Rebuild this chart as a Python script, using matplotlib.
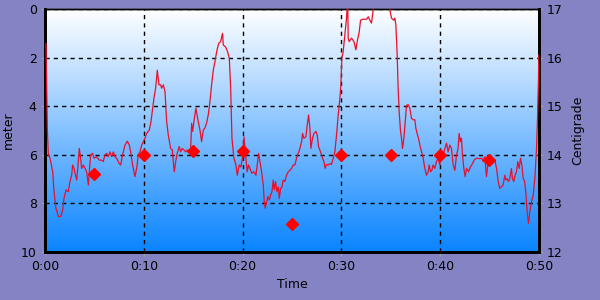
import numpy as np
import matplotlib
matplotlib.use("Agg")
from matplotlib import pyplot as plt
from matplotlib.colors import LinearSegmentedColormap
from matplotlib.ticker import FuncFormatter

# depth samples (meter), every 5 minutes
depth_time = [5, 10, 15, 20, 25, 30, 35, 40, 45]
depth = [6.8, 6.0, 5.85, 5.85, 8.85, 6.0, 6.0, 6.0, 6.2]

# temperature trace (minutes, Centigrade)
temp_time = [0.10, 0.24, 0.34, 0.51, 0.78, 0.91, 1.11, 1.35, 1.59, 1.79, 1.92, 2.13,
             2.36, 2.53, 2.70, 2.80, 2.94, 3.04, 3.21, 3.37, 3.47, 3.61, 3.71, 3.88,
             4.05, 4.22, 4.39, 4.49, 4.62, 4.82, 4.96, 5.23, 5.50, 5.73, 5.90, 6.07,
             6.24, 6.41, 6.58, 6.75, 6.92, 7.09, 7.25, 7.52, 7.66, 7.86, 8.10, 8.33,
             8.54, 8.67, 8.87, 9.11, 9.28, 9.45, 9.62, 9.79, 9.95, 10.12, 10.29, 10.56,
             10.73, 10.90, 11.03, 11.20, 11.37, 11.54, 11.71, 11.81, 11.98, 12.15, 12.32,
             12.48, 12.72, 12.89, 12.99, 13.09, 13.23, 13.39, 13.59, 13.73, 13.90, 14.07,
             14.24, 14.40, 14.61, 14.75, 14.85, 14.95, 15.08, 15.28, 15.52, 15.69, 15.86,
             16.03, 16.19, 16.36, 16.53, 16.70, 16.87, 17.04, 17.21, 17.38, 17.58, 17.78,
             17.98, 18.05, 18.29, 18.49, 18.66, 18.80, 18.93, 19.13, 19.33, 19.47, 19.67,
             19.84, 20.00, 20.15, 20.34, 20.47, 20.61, 20.75, 20.95, 21.16, 21.36, 21.49,
             21.63, 21.76, 21.93, 22.10, 22.20, 22.30, 22.44, 22.57, 22.71, 22.84, 22.98,
             23.11, 23.21, 23.35, 23.48, 23.62, 23.72, 23.86, 23.99, 24.12, 24.29, 24.46,
             24.63, 24.80, 24.97, 25.13, 25.30, 25.47, 25.64, 25.81, 25.98, 26.08, 26.21,
             26.42, 26.55, 26.69, 26.82, 26.92, 27.09, 27.23, 27.43, 27.56, 27.70, 27.90,
             28.10, 28.24, 28.37, 28.51, 28.68, 28.85, 29.01, 29.18, 29.35, 29.52, 29.69,
             29.86, 29.96, 30.06, 30.19, 30.36, 30.53, 30.60, 30.65, 30.70, 30.80, 31.04,
             31.28, 31.48, 31.61, 31.82, 31.95, 32.22, 32.56, 32.73, 32.89, 33.06, 33.23,
             33.40, 34.00, 34.50, 34.85, 34.92, 35.09, 35.32, 35.43, 35.53, 35.66, 35.76,
             35.86, 36.00, 36.10, 36.20, 36.34, 36.47, 36.61, 36.78, 36.94, 37.11, 37.28,
             37.45, 37.55, 37.68, 37.82, 37.96, 38.13, 38.29, 38.46, 38.63, 38.80, 38.90,
             39.04, 39.17, 39.30, 39.47, 39.64, 39.81, 39.98, 40.15, 40.32, 40.49, 40.66,
             40.82, 40.99, 41.16, 41.33, 41.50, 41.67, 41.83, 41.93, 42.07, 42.17, 42.27,
             42.41, 42.54, 42.68, 42.88, 43.08, 43.29, 43.45, 43.69, 43.95, 44.23, 44.36,
             44.53, 44.70, 44.87, 45.04, 45.31, 45.55, 45.72, 45.89, 46.05, 46.22, 46.39,
             46.56, 46.66, 46.79, 46.93, 47.06, 47.23, 47.33, 47.47, 47.60, 47.74, 47.87,
             48.01, 48.15, 48.28, 48.42, 48.56, 48.68, 48.82, 48.96, 49.09, 49.26, 49.43,
             49.60, 49.77, 49.87, 49.97, 50.00]
temp = [16.29, 14.51, 14.00, 13.93, 13.65, 13.24, 12.90, 12.73, 12.73, 12.86, 13.10, 13.28,
        13.24, 13.45, 13.58, 13.79, 13.72, 13.62, 13.48, 13.86, 14.13, 13.93, 13.72, 13.79,
        13.72, 13.65, 13.38, 13.65, 14.00, 14.03, 13.93, 13.96, 13.89, 13.89, 13.86, 14.00,
        14.03, 13.96, 14.06, 13.96, 14.06, 13.96, 13.93, 13.82, 13.79, 14.00, 14.20, 14.28,
        14.20, 14.06, 13.79, 13.55, 13.72, 14.00, 14.06, 14.20, 14.27, 14.34, 14.44, 14.51,
        14.68, 14.96, 15.16, 15.37, 15.74, 15.44, 15.44, 15.37, 15.44, 15.30, 14.68,
        14.41, 14.13, 14.10, 13.86, 13.65, 13.86, 14.03, 14.17, 14.06, 14.13, 14.10,
        14.06, 14.10, 14.06, 14.13, 14.65, 14.48, 14.68, 14.96, 14.68, 14.51, 14.27,
        14.51, 14.55, 14.65, 14.82, 15.09, 15.44, 15.74, 15.92, 16.12, 16.29, 16.33,
        16.50, 16.26, 16.22, 16.12, 15.99, 15.37, 14.34, 13.93, 13.79, 13.58, 13.79,
        13.75, 13.95, 14.37, 13.93, 13.65, 13.79, 13.72, 13.62, 13.65, 13.58, 13.79,
        14.03, 13.86, 13.65, 13.38, 13.03, 12.90, 13.03, 13.14, 13.07, 13.17, 13.24,
        13.48, 13.28, 13.45, 13.24, 13.34, 13.10, 13.31, 13.34, 13.48, 13.45, 13.58,
        13.65, 13.68, 13.72, 13.79, 13.79, 13.93, 14.03, 14.13, 14.27, 14.44, 14.34,
        14.37, 14.61, 14.82, 14.55, 14.13, 14.34, 14.44, 14.48, 14.41, 14.17, 14.06,
        13.93, 13.86, 13.72, 13.80, 13.79, 13.82, 13.80, 13.93, 14.06, 14.41, 14.82,
        15.16, 15.44, 15.99, 16.12, 16.47, 16.81, 17.05, 17.15, 16.40, 16.33, 16.40,
        16.33, 16.16, 16.33, 16.53, 16.77, 16.79, 16.79, 16.84, 16.77, 16.71, 16.98,
        17.20, 17.35, 17.25, 17.10, 16.98, 16.81, 16.77, 16.81, 16.67, 16.05, 15.37,
        14.89, 14.48, 14.34, 14.13, 14.34, 14.68, 15.02, 15.03, 14.96, 14.75, 14.72,
        14.72, 14.55, 14.44, 14.34, 14.20, 14.06, 13.93, 13.72, 13.58, 13.65, 13.79,
        13.65, 13.68, 13.79, 13.72, 13.86, 13.93, 13.79, 14.06, 14.00, 14.13, 14.24,
        14.06, 14.20, 14.13, 13.79, 13.68, 14.00, 14.13, 14.44, 14.27, 14.34, 14.00,
        13.72, 13.55, 13.72, 13.65, 13.75, 13.82, 13.89, 13.93, 13.92, 13.93, 13.86,
        13.96, 13.55, 13.86, 13.89, 13.93, 13.89, 13.72, 13.45, 13.31, 13.34, 13.38,
        13.58, 13.48, 13.51, 13.45, 13.51, 13.72, 13.51, 13.45, 13.58, 13.65, 13.86,
        13.72, 13.93, 13.79, 13.51, 13.45, 13.24, 12.83, 12.59, 12.83, 13.03, 13.17,
        13.51, 14.13, 14.75, 15.57, 16.05]

x_ticks = [0, 10, 20, 30, 40, 50]
x_labels = ["0:00", "0:10", "0:20", "0:30", "0:40", "0:50"]

bg = "#8484C4"
fig = plt.figure(figsize=(6, 3), dpi=100, facecolor=bg)
ax = fig.add_axes([0.075, 0.16, 0.823, 0.81])

# white -> blue gradient in the plot area
cmap = LinearSegmentedColormap.from_list("sky", ["#FFFFFF", "#0A84FF"])
grad = np.linspace(0, 1, 256).reshape(-1, 1)
ax.imshow(grad, cmap=cmap, aspect="auto", extent=[0, 1, 0, 1],
          transform=ax.transAxes, origin="upper", zorder=0)

ax.set_xlim(0, 50)
ax.set_ylim(10, 0)
ax.set_xticks(x_ticks)
ax.set_xticklabels(x_labels)
ax.set_yticks([0, 2, 4, 6, 8, 10])
ax.grid(True, color="black", linestyle=(0, (3, 3)), linewidth=1)
ax.set_axisbelow(False)
ax.set_ylabel("meter", fontsize=9, labelpad=4)
ax.set_xlabel("Time", fontsize=9, labelpad=3)
ax.tick_params(labelsize=9, length=3, color="#A0A0A0", pad=3)

ax2 = ax.twinx()
ax2.set_ylim(12, 17)
ax2.set_yticks([12, 13, 14, 15, 16, 17])
ax2.set_ylabel("Centigrade", fontsize=9, labelpad=6)
ax2.tick_params(labelsize=9, length=3, color="#A0A0A0", pad=3)
ax2.plot(temp_time, temp, color="#E8102A", linewidth=0.9, zorder=3)
ax2.plot(depth_time, [17 - d / 2 for d in depth], linestyle="none", marker="D",
         markersize=6, color="#FF0000", zorder=4)

for a in (ax, ax2):
    for side in ("left", "right", "bottom"):
        a.spines[side].set_linewidth(2)
    a.spines["top"].set_linewidth(1)

fig.savefig("out.png", dpi=100, facecolor=bg)
